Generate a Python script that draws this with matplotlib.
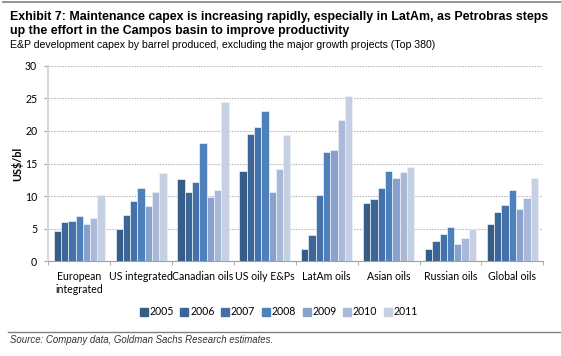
import numpy as np
import matplotlib.pyplot as plt
from matplotlib.lines import Line2D

# data (US$/bl)
kategori = ['European\nintegrated', 'US integrated', 'Canadian oils', 'US oily E&Ps',
            'LatAm oils', 'Asian oils', 'Russian oils', 'Global oils']
tahun = ['2005', '2006', '2007', '2008', '2009', '2010', '2011']

v2005 = [4.6, 5.0, 12.6, 13.9, 1.9, 9.0, 1.9, 5.7]
v2006 = [6.0, 7.1, 10.6, 19.5, 4.1, 9.6, 3.1, 7.5]
v2007 = [6.2, 9.3, 12.1, 20.6, 10.2, 11.3, 4.2, 8.7]
v2008 = [7.0, 11.3, 18.2, 23.0, 16.8, 13.8, 5.3, 10.9]
v2009 = [5.7, 8.5, 9.8, 10.6, 17.0, 12.8, 2.7, 8.0]
v2010 = [6.7, 10.7, 11.0, 14.2, 21.7, 13.7, 3.6, 9.7]
v2011 = [10.2, 13.6, 24.5, 19.4, 25.3, 14.4, 4.9, 12.8]

nilai = [v2005, v2006, v2007, v2008, v2009, v2010, v2011]
warna = ['#365C88', '#3E6598', '#4571AB', '#4E80BC', '#89A2CC', '#AAB9D9', '#C6D0E3']

plt.rcParams['font.family'] = ['Liberation Sans', 'DejaVu Sans']
font_tick = ['Lato', 'DejaVu Sans']

fig = plt.figure(figsize=(5.61, 3.56), dpi=100)
ax = fig.add_axes([0.0861, 0.266, 0.8823, 0.5494])

x = np.arange(len(kategori))
lebar = 0.118
for i in range(len(tahun)):
    pos = x - 3 * lebar + i * lebar
    ax.bar(pos, nilai[i], width=lebar, color=warna[i], edgecolor='#eef1f7',
           linewidth=0.5, label=tahun[i], zorder=3)

ax.set_xlim(-0.5, len(kategori) - 0.5)
ax.set_ylim(0, 30)
ax.set_yticks(range(0, 31, 5))
ax.grid(axis='y', linestyle=(0, (1.5, 1)), color='#bcbcbc', linewidth=0.8, zorder=0)

ax.set_xticks(x)
ax.set_xticklabels(kategori, family=font_tick, fontsize=7.6)
ax.set_xticks(np.arange(-0.5, len(kategori)), minor=True)
ax.tick_params(axis='x', which='major', length=0, pad=7)
ax.tick_params(axis='x', which='minor', length=3, color='#a0a0a0', direction='out')
ax.tick_params(axis='y', length=3, color='#a0a0a0', pad=5)
for lbl in ax.get_yticklabels():
    lbl.set_family(font_tick)
    lbl.set_fontsize(7.6)

ax.spines['top'].set_visible(False)
ax.spines['right'].set_visible(False)
ax.spines['left'].set_color('#d9d9d9')
ax.spines['left'].set_linewidth(1.5)
ax.spines['bottom'].set_color('#a0a0a0')
ax.spines['bottom'].set_linewidth(0.8)

ax.set_ylabel('US$/bl', family=font_tick, fontsize=7.8, fontweight='bold', labelpad=1)

# legenda
handles = [Line2D([], [], marker='s', linestyle='none', markersize=5.5,
                  markerfacecolor=warna[i], markeredgecolor=warna[i]) for i in range(len(tahun))]
fig.legend(handles, tahun, loc='center', bbox_to_anchor=(0.496, 0.124), ncol=7,
           frameon=False, prop={'family': font_tick, 'size': 7.6},
           handletextpad=0.05, columnspacing=0.5, handlelength=1.0)

# judul
fig.add_artist(Line2D([0.005, 1.0], [0.995, 0.995], color='#808080', linewidth=1.2))
fig.text(0.018, 0.953, 'Exhibit 7: Maintenance capex is increasing rapidly, especially in LatAm, as Petrobras steps',
         fontsize=8.9, fontweight='bold', va='center')
fig.text(0.018, 0.913, 'up the effort in the Campos basin to improve productivity',
         fontsize=8.9, fontweight='bold', va='center')
fig.text(0.018, 0.873, 'E&P development capex by barrel produced, excluding the major growth projects (Top 380)',
         fontsize=7.6, va='center')

fig.add_artist(Line2D([0.014, 1.0], [0.068, 0.068], color='#808080', linewidth=1.0))
fig.text(0.018, 0.045, 'Source: Company data, Goldman Sachs Research estimates.',
         fontsize=6.9, style='italic', va='center', color='#333333')

fig.savefig('out.png', dpi=100)
